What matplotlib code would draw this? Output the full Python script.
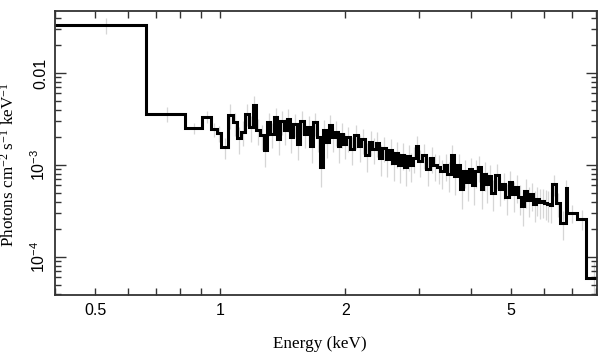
import numpy as np
import matplotlib
matplotlib.use("Agg")
from matplotlib import pyplot as plt
from matplotlib.ticker import FixedLocator, NullFormatter

# bin edges (keV)
edges = [0.40, 0.663, 0.824, 0.905, 0.950, 0.982, 1.004, 1.045,
         1.07, 1.095, 1.12, 1.145, 1.17, 1.195, 1.22, 1.245, 1.27, 1.295,
         1.32, 1.345, 1.37, 1.395, 1.42, 1.445, 1.47, 1.495,
         1.525, 1.555, 1.585, 1.615, 1.645, 1.675, 1.705, 1.735, 1.765,
         1.795, 1.825, 1.855, 1.885, 1.915, 1.945, 1.975, 2.005,
         2.05, 2.095, 2.14, 2.185, 2.23, 2.275, 2.32, 2.365, 2.41, 2.455,
         2.50, 2.545, 2.59, 2.635, 2.68, 2.725, 2.77, 2.815, 2.86, 2.905,
         2.95, 2.995,
         3.06, 3.125, 3.19, 3.255, 3.32, 3.385, 3.45, 3.515, 3.58, 3.645,
         3.71, 3.775, 3.84, 3.905, 3.97, 4.035, 4.10, 4.165, 4.23, 4.295,
         4.36, 4.425, 4.49,
         4.58, 4.67, 4.76, 4.85, 4.94, 5.03, 5.12, 5.21, 5.30, 5.39, 5.48,
         5.57, 5.66, 5.75, 5.84, 5.93, 6.02, 6.11, 6.20, 6.28,
         6.41, 6.56, 6.78, 6.83, 7.21, 7.58, 8.30]

# photons cm^-2 s^-1 keV^-1
flux_low = [3.33e-2, 3.58e-3, 2.52e-3, 3.35e-3, 2.44e-3, 2.21e-3, 1.56e-3]
flux_a = [3.5e-3, 2.9e-3, 1.95e-3, 2.3e-3, 3.6e-3, 2.6e-3, 4.5e-3, 2.4e-3,
          2.1e-3, 1.45e-3, 2.9e-3, 2.2e-3, 3.3e-3, 1.9e-3, 3.0e-3, 2.4e-3,
          3.2e-3, 2.0e-3]
flux_b = [2.8e-3, 1.7e-3, 3.0e-3, 2.2e-3, 2.6e-3, 1.6e-3, 2.9e-3, 2.0e-3,
          0.95e-3, 2.4e-3, 1.8e-3, 2.7e-3, 2.0e-3, 2.3e-3, 1.6e-3, 2.2e-3,
          1.7e-3]
flux_c = [2.0e-3, 1.5e-3, 2.1e-3, 1.6e-3, 1.9e-3, 1.3e-3, 1.8e-3, 1.5e-3,
          1.75e-3, 1.2e-3, 1.55e-3, 1.15e-3, 1.45e-3, 1.05e-3, 1.35e-3,
          1.0e-3, 1.3e-3, 0.95e-3, 1.25e-3, 1.0e-3, 1.2e-3, 1.6e-3]
flux_d = [1.1e-3, 1.3e-3, 0.9e-3, 1.2e-3, 1.0e-3, 0.95e-3, 0.85e-3, 1.0e-3,
          0.8e-3, 1.3e-3, 0.75e-3, 1.0e-3, 0.55e-3, 0.85e-3, 0.65e-3,
          0.9e-3, 0.6e-3, 0.85e-3, 0.95e-3, 0.55e-3, 0.8e-3, 0.62e-3, 0.75e-3]
flux_e = [0.50e-3, 0.78e-3, 0.55e-3, 0.62e-3, 0.45e-3, 0.65e-3, 0.48e-3,
          0.58e-3, 0.45e-3, 0.36e-3, 0.52e-3, 0.42e-3, 0.48e-3, 0.38e-3,
          0.43e-3, 0.40e-3, 0.41e-3, 0.39e-3, 0.38e-3, 0.37e-3]
flux_tail = [6.2e-4, 3.86e-4, 2.34e-4, 5.6e-4, 3.0e-4, 2.6e-4, 5.9e-5]

# relative 1-sigma errors
err_low = [0.20, 0.18, 0.13, 0.15, 0.17, 0.20, 0.25]
err_a = [0.30, 0.28, 0.33, 0.30, 0.27, 0.31, 0.26, 0.32, 0.30, 0.35, 0.28,
         0.30, 0.27, 0.33, 0.29, 0.31, 0.28, 0.32]
err_b = [0.28, 0.34, 0.29, 0.31, 0.30, 0.35, 0.28, 0.31, 0.40, 0.30, 0.33,
         0.28, 0.31, 0.30, 0.34, 0.30, 0.32]
err_c = [0.30, 0.33, 0.29, 0.32, 0.30, 0.35, 0.30, 0.32, 0.30, 0.36, 0.31,
         0.35, 0.31, 0.36, 0.32, 0.36, 0.32, 0.37, 0.32, 0.35, 0.32, 0.28]
err_d = [0.33, 0.30, 0.35, 0.31, 0.33, 0.34, 0.35, 0.33, 0.36, 0.28, 0.37,
         0.33, 0.40, 0.34, 0.37, 0.33, 0.38, 0.34, 0.32, 0.40, 0.35, 0.37,
         0.35]
err_e = [0.36, 0.30, 0.35, 0.33, 0.37, 0.32, 0.36, 0.34, 0.36, 0.40, 0.34,
         0.36, 0.34, 0.37, 0.35, 0.36, 0.35, 0.36, 0.37, 0.37]
err_tail = [0.25, 0.30, 0.35, 0.22, 0.22, 0.25, 0.50]

flux = np.array(flux_low + flux_a + flux_b + flux_c + flux_d + flux_e + flux_tail)
rel = np.array(err_low + err_a + err_b + err_c + err_d + err_e + err_tail)
edges = np.array(edges)
centers = 0.5 * (edges[:-1] + edges[1:])

plt.rcParams['font.family'] = 'Liberation Sans'
plt.rcParams['mathtext.default'] = 'regular'

fig = plt.figure(figsize=(6.09, 3.57), dpi=100)
ax = fig.add_axes([0.0903, 0.1737, 0.8897, 0.7953])

ax.errorbar(centers, flux, yerr=flux * rel, fmt='none', ecolor='#d6d6d6',
            elinewidth=0.9, zorder=1)
ax.stairs(flux, edges, color='k', lw=2.2, baseline=None, zorder=2)

ax.set_xscale('log')
ax.set_yscale('log')
ax.set_xlim(0.4, 8.05)
ax.set_ylim(3.86e-5, 0.0472)

ax.xaxis.set_major_locator(FixedLocator([0.5, 1, 2, 5]))
ax.set_xticklabels(['0.5', '1', '2', '5'])
ax.xaxis.set_minor_locator(FixedLocator([0.4, 0.6, 0.7, 0.8, 0.9, 3, 4, 6, 7, 8]))
ax.xaxis.set_minor_formatter(NullFormatter())

ax.set_yticks([1e-4, 1e-3, 1e-2])
ax.set_yticklabels(['10$^{-4}$', '10$^{-3}$', '0.01'], rotation=90, va='center')
ax.yaxis.set_minor_formatter(NullFormatter())

ax.tick_params(which='both', direction='in', top=True, right=True,
               labelsize=11.5, color='#333333', width=1.0)
ax.tick_params(axis='x', which='both', length=5, pad=6)
ax.tick_params(axis='y', which='major', length=8, pad=5)
ax.tick_params(axis='y', which='minor', length=4)
for s in ax.spines.values():
    s.set_linewidth(1.3)
    s.set_color('#333333')

ax.set_xlabel('Energy (keV)', family='Liberation Serif', fontsize=12.3, labelpad=9)
ax.xaxis.set_label_coords(0.488, -0.145)
ax.set_ylabel('Photons cm$^{-2}$ s$^{-1}$ keV$^{-1}$', family='Liberation Serif',
              fontsize=12.3, labelpad=5)
ax.yaxis.set_label_coords(-0.068, 0.46)

plt.savefig('out.png', dpi=100)
plt.close(fig)
